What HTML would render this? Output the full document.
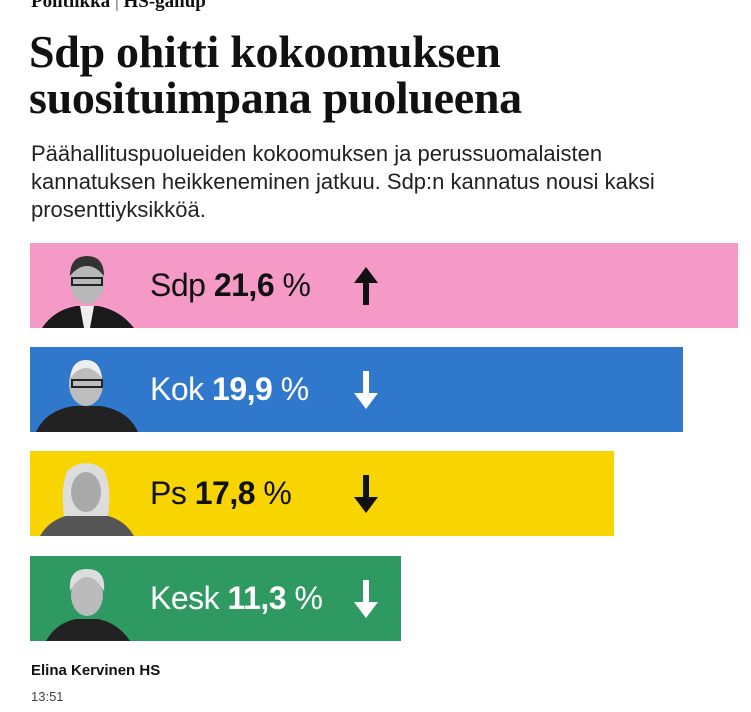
<!DOCTYPE html>
<html><head><meta charset="utf-8"><style>
body{margin:0;width:751px;height:712px;background:#fff;position:relative;overflow:hidden;font-family:"Liberation Sans",sans-serif;color:#111}
.a{position:absolute}
.top{left:31px;top:-9px;font:bold 19px "Liberation Serif",serif;white-space:nowrap}
h1{position:absolute;left:29px;top:29px;margin:0;font:bold 46px/46px "Liberation Serif",serif;letter-spacing:-0.3px}
.sub{left:31px;top:140px;font-size:22px;line-height:28px;width:640px;color:#222}
.bar{position:absolute;left:30px;height:85px}
.lbl{position:absolute;left:120px;top:24px;font-size:32px;white-space:nowrap;letter-spacing:-0.5px}
.lbl b{font-weight:bold}
.ph{position:absolute;left:4px;bottom:0;width:106px;height:80px}
.arr{position:absolute;left:323px;top:22px}
</style></head><body>
<div class="a top">Politiikka <span style="font-weight:normal;color:#555">|</span> HS-gallup</div>
<h1>Sdp ohitti kokoomuksen<br>suosituimpana puolueena</h1>
<div class="a sub">Päähallituspuolueiden kokoomuksen ja perussuomalaisten kannatuksen heikkeneminen jatkuu. Sdp:n kannatus nousi kaksi prosenttiyksikköä.</div>

<div class="bar" style="top:243px;width:708px;background:#f59ac6">
<svg class="ph" viewBox="0 0 106 80"><path d="M8 80 Q20 62 42 58 L64 58 Q86 62 100 80Z" fill="#1a1a1a"/><path d="M46 58 L60 58 L56 80 L50 80Z" fill="#eee"/><ellipse cx="53" cy="34" rx="17" ry="22" fill="#b8b8b8"/><path d="M36 28 Q36 8 53 8 Q70 8 70 28 Q62 18 53 18 Q44 18 36 28Z" fill="#333"/><rect x="38" y="30" width="30" height="7" fill="none" stroke="#222" stroke-width="2"/></svg>
<div class="lbl" style="color:#111">Sdp <b>21,6</b> %</div>
<svg class="arr" width="26" height="42" viewBox="0 0 26 42"><path d="M13 2 L25 18 L16 18 L16 40 L10 40 L10 18 L1 18Z" fill="#111"/></svg>
</div>

<div class="bar" style="top:347px;width:653px;background:#2f78cb">
<svg class="ph" viewBox="0 0 106 80"><path d="M2 80 Q12 58 40 54 L66 54 Q94 58 104 80Z" fill="#222"/><ellipse cx="52" cy="32" rx="17" ry="22" fill="#bdbdbd"/><path d="M36 26 Q38 8 52 8 Q66 8 68 26 Q60 16 52 16 Q44 16 36 26Z" fill="#eee"/><rect x="38" y="28" width="30" height="7" fill="none" stroke="#222" stroke-width="2"/></svg>
<div class="lbl" style="color:#fff">Kok <b>19,9</b> %</div>
<svg class="arr" width="26" height="42" viewBox="0 0 26 42"><path d="M13 40 L25 24 L16 24 L16 2 L10 2 L10 24 L1 24Z" fill="#fff"/></svg>
</div>

<div class="bar" style="top:451px;width:584px;background:#f8d500">
<svg class="ph" viewBox="0 0 106 80"><path d="M6 80 Q16 62 40 58 L66 58 Q90 62 100 80Z" fill="#555"/><path d="M30 60 Q26 30 34 14 Q52 0 70 14 Q78 30 74 60Z" fill="#ddd"/><ellipse cx="52" cy="36" rx="15" ry="20" fill="#aaa"/></svg>
<div class="lbl" style="color:#111">Ps <b>17,8</b> %</div>
<svg class="arr" width="26" height="42" viewBox="0 0 26 42"><path d="M13 40 L25 24 L16 24 L16 2 L10 2 L10 24 L1 24Z" fill="#111"/></svg>
</div>

<div class="bar" style="top:556px;width:371px;background:#2e9a62">
<svg class="ph" viewBox="0 0 106 80"><path d="M12 80 Q22 62 42 58 L64 58 Q84 62 96 80Z" fill="#222"/><ellipse cx="53" cy="34" rx="16" ry="21" fill="#bbb"/><path d="M36 30 Q34 8 53 8 Q72 8 70 30 Q62 16 53 16 Q44 16 36 30Z" fill="#ddd"/></svg>
<div class="lbl" style="color:#fff">Kesk <b>11,3</b> %</div>
<svg class="arr" width="26" height="42" viewBox="0 0 26 42"><path d="M13 40 L25 24 L16 24 L16 2 L10 2 L10 24 L1 24Z" fill="#fff"/></svg>
</div>

<div class="a" style="left:31px;top:662px;font-size:15px;font-weight:bold">Elina Kervinen HS</div>
<div class="a" style="left:31px;top:689px;font-size:13px;color:#444">13:51</div>
</body></html>
